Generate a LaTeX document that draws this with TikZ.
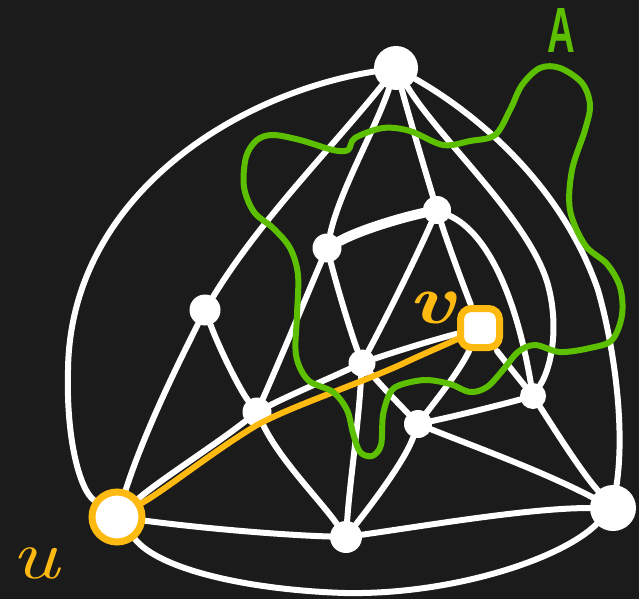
\documentclass[tikz,border=0pt]{standalone}
\usepackage{fontspec}
\newfontfamily\labelsans{Liberation Sans}
\definecolor{board}{RGB}{27,27,27}
\definecolor{chalkgreen}{RGB}{92,192,0}
\definecolor{chalkorange}{RGB}{255,186,18}
\pgfdeclarelayer{bg}
\pgfdeclarelayer{edgelayer}
\pgfsetlayers{bg,edgelayer,main}
\tikzset{
  vtx/.style={circle, fill=white, inner sep=0pt, minimum size=#1},
  wline/.style={draw=white, line width=6pt, line cap=round, line join=round},
  gline/.style={draw=chalkgreen, line width=6pt, line cap=round, line join=round},
  oline/.style={draw=chalkorange, line width=6pt, line cap=round, line join=round},
  lbl/.style={inner sep=0pt, font=\fontsize{70}{70}\selectfont\itshape}
}
\begin{document}
\begin{tikzpicture}[x=1pt,y=-1pt]
\begin{pgfonlayer}{bg}
\fill[board] (0,0) rectangle (639,599);
\end{pgfonlayer}
\useasboundingbox (0,0) rectangle (639,599);

% vertices
\node[vtx=44] (T) at (396,68) {};
\node[circle, fill=white, draw=chalkorange, line width=7pt, minimum size=50pt, inner sep=0pt] (U) at (117,517) {};
\node[vtx=32] (B) at (346,537) {};
\node[vtx=46] (R) at (613,508) {};
\node[vtx=31] (L) at (205,310) {};
\node[vtx=29] (P) at (257,412) {};
\node[vtx=29] (Q) at (327,248) {};
\node[vtx=28] (S) at (437,210) {};
\node[vtx=27] (M) at (362,363) {};
\node[rectangle, rounded corners=11pt, fill=white, draw=chalkorange, line width=7pt, minimum size=39pt, inner sep=0pt] (V) at (480,328) {};
\node[vtx=28] (N) at (418,424) {};
\node[vtx=26] (K) at (533,396) {};

\begin{pgfonlayer}{edgelayer}
% outer arcs
\draw[wline] (T) .. controls (230,95) and (70,200) .. (68,370) .. controls (66,440) and (80,490) .. (U);
\draw[wline] (T) .. controls (470,110) and (560,180) .. (598,290) .. controls (615,350) and (625,430) .. (R);
\draw[wline] (U) .. controls (160,570) and (250,590) .. (345,593) .. controls (450,595) and (560,560) .. (R);
% from T
\draw[wline] (T) .. controls (440,140) and (530,220) .. (548,285) .. controls (560,330) and (550,370) .. (K);
\draw[wline] (T) .. controls (410,120) and (425,170) .. (S);
\draw[wline] (T) .. controls (375,130) and (340,190) .. (Q);
\draw[wline] (T) .. controls (330,150) and (260,220) .. (L);
% others
\draw[wline] (L) .. controls (180,360) and (145,430) .. (U);
\draw[wline] (L) .. controls (220,350) and (240,390) .. (P);
\draw[wline] (Q) .. controls (305,300) and (280,360) .. (P);
\draw[wline] (Q) .. controls (338,290) and (350,330) .. (M);
\draw[wline, line width=10pt] (Q) .. controls (360,230) and (400,218) .. (S);
\draw[wline] (S) .. controls (415,260) and (385,320) .. (M);
\draw[wline] (S) .. controls (450,250) and (465,290) .. (V);
\draw[wline] (S) .. controls (485,232) and (515,290) .. (K);
\draw[wline] (U) .. controls (160,480) and (215,445) .. (P);
\draw[wline] (P) .. controls (290,395) and (330,378) .. (M);
\draw[wline] (M) .. controls (400,350) and (440,338) .. (V);
\draw[wline] (P) .. controls (280,460) and (320,500) .. (B);
\draw[wline] (M) .. controls (358,430) and (350,480) .. (B);
\draw[wline] (M) .. controls (385,390) and (400,405) .. (N);
\draw[wline] (V) .. controls (460,370) and (440,395) .. (N);
\draw[wline] (V) .. controls (500,355) and (520,380) .. (K);
\draw[wline] (N) .. controls (460,415) and (500,405) .. (K);
\draw[wline] (N) .. controls (405,460) and (375,500) .. (B);
\draw[wline] (N) .. controls (470,445) and (540,470) .. (R);
\draw[wline] (K) .. controls (555,430) and (580,470) .. (R);
\draw[wline] (U) .. controls (200,528) and (280,535) .. (B);
\draw[wline] (B) .. controls (430,525) and (530,508) .. (R);
\end{pgfonlayer}

% highlighted path u -> v
\draw[oline] (U) .. controls (165,490) and (215,450) .. (257,425) .. controls (290,407) and (350,387) .. (400,365) .. controls (425,353) and (445,345) .. (V);

% set A
\draw[gline] plot[smooth cycle, tension=0.55] coordinates {
 (273,135) (300,140) (333,150) (348,150) (355,138) (383,128) (410,131) (443,145)
 (470,141) (495,135) (510,110) (522,85) (540,68) (560,68) (582,83) (590,105)
 (585,130) (572,170) (570,210) (585,245) (607,264) (620,287) (622,315) (612,340)
 (590,348) (560,352) (535,345) (518,352) (503,370) (487,387) (470,392) (450,384)
 (425,380) (400,385) (390,393) (383,415) (381,445) (372,456) (360,452) (353,433)
 (347,410) (333,392) (308,380) (296,355) (297,315) (298,275) (290,248) (273,228)
 (254,212) (244,187) (246,157) (257,140)};

% labels
\node[inner sep=0pt, text=chalkgreen, font=\labelsans\bfseries\fontsize{64}{64}\selectfont] (labA) at (561,30) {\scalebox{0.6}[1]{A}};
\node[lbl, text=chalkorange] (labv) at (432,308) {\scalebox{1.25}[1]{\bfseries v}};
\node[lbl, text=chalkorange] (labu) at (35,563) {\scalebox{1.3}[1]{u}};
\end{tikzpicture}
\end{document}
